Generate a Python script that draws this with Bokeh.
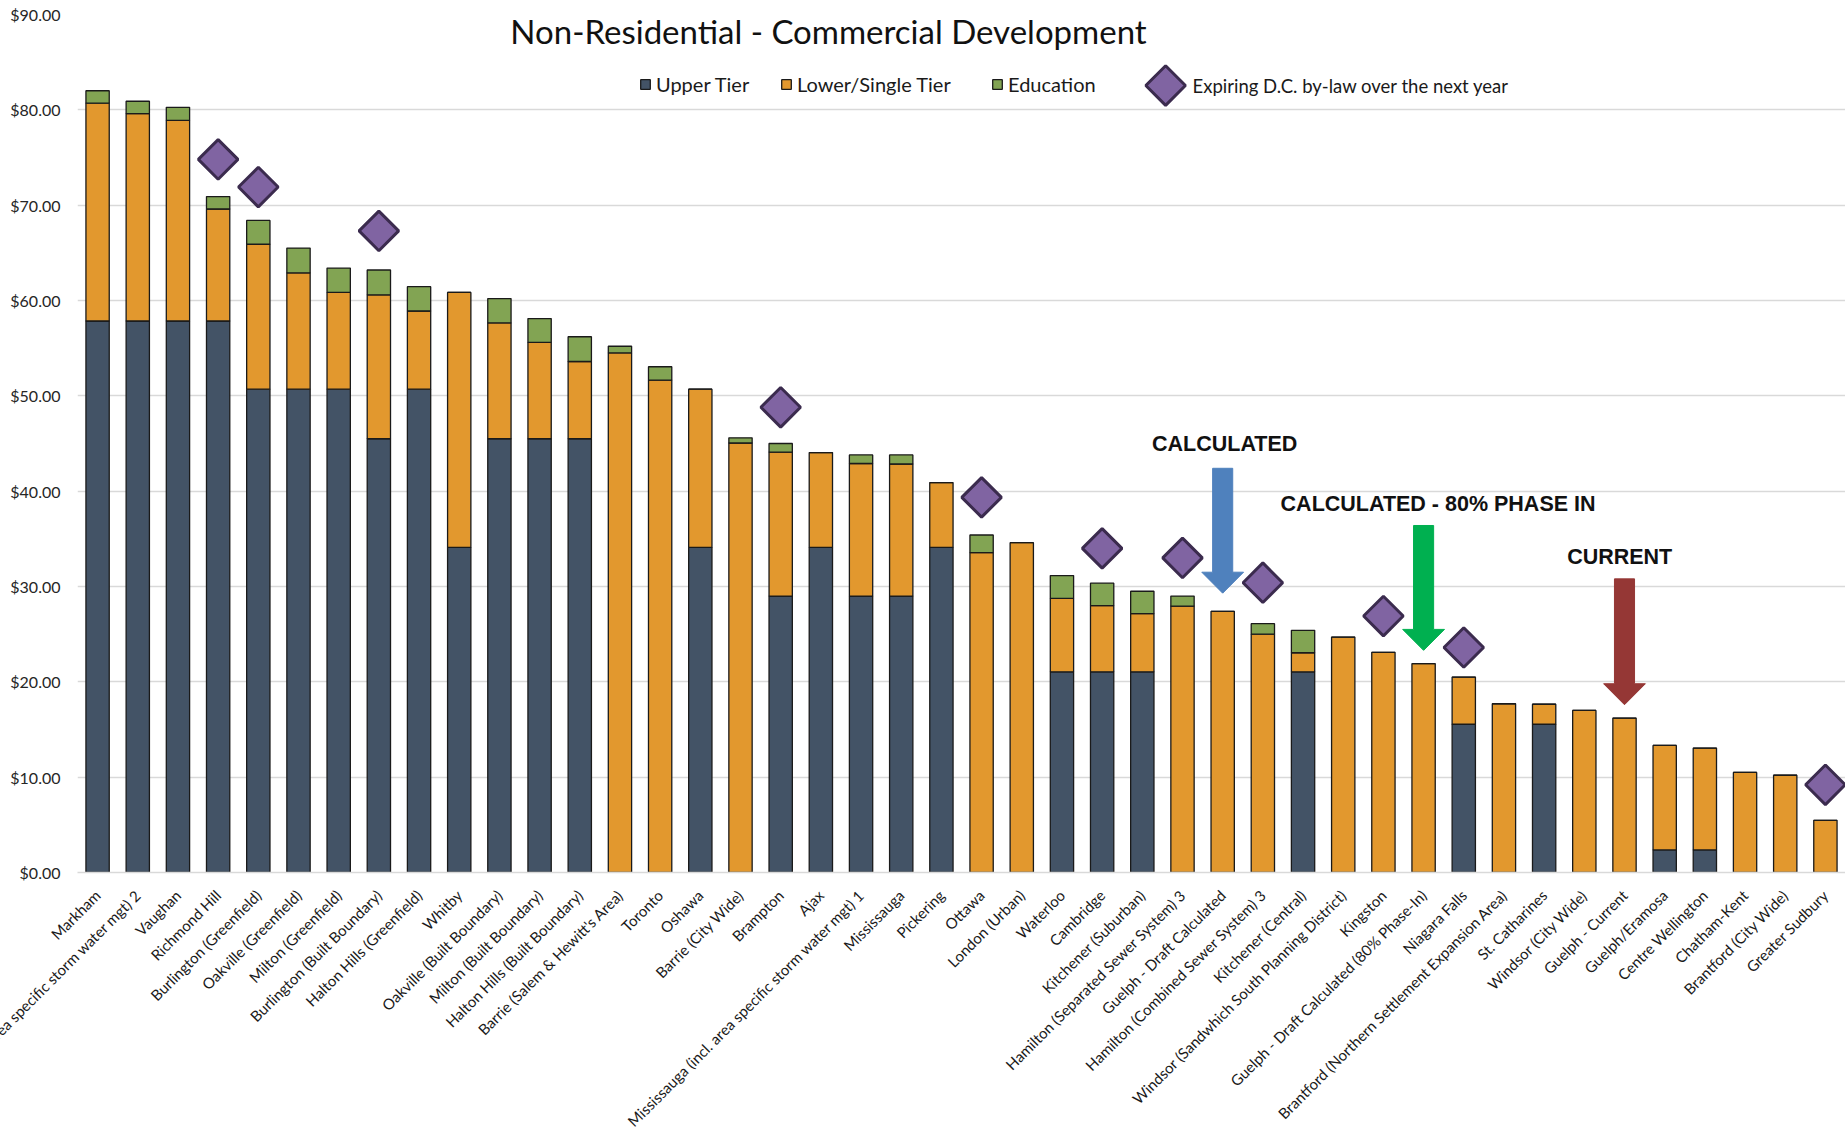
import math
from bokeh.plotting import figure
from bokeh.models import (ColumnDataSource, Legend, LegendItem, FixedTicker,
                          NumeralTickFormatter, CustomJSTickFormatter, Range1d)
from bokeh.core.properties import value
from bokeh.embed import file_html
from bokeh.resources import INLINE

# ---------------- data ----------------
categories = [
    "Markham",
    "Vaughan (incl. area specific storm water mgt) 2",
    "Vaughan",
    "Richmond Hill",
    "Burlington (Greenfield)",
    "Oakville (Greenfield)",
    "Milton (Greenfield)",
    "Burlington (Built Boundary)",
    "Halton Hills (Greenfield)",
    "Whitby",
    "Oakville (Built Boundary)",
    "Milton (Built Boundary)",
    "Halton Hills (Built Boundary)",
    "Barrie (Salem & Hewitt's Area)",
    "Toronto",
    "Oshawa",
    "Barrie (City Wide)",
    "Brampton",
    "Ajax",
    "Mississauga (incl. area specific storm water mgt) 1",
    "Mississauga",
    "Pickering",
    "Ottawa",
    "London (Urban)",
    "Waterloo",
    "Cambridge",
    "Kitchener (Suburban)",
    "Hamilton (Separated Sewer System) 3",
    "Guelph - Draft Calculated",
    "Hamilton (Combined Sewer System) 3",
    "Kitchener (Central)",
    "Windsor (Sandwhich South Planning District)",
    "Kingston",
    "Guelph - Draft Calculated (80% Phase-In)",
    "Niagara Falls",
    "Brantford (Northern Settlement Expansion Area)",
    "St. Catharines",
    "Windsor (City Wide)",
    "Guelph - Current",
    "Guelph/Eramosa",
    "Centre Wellington",
    "Chatham-Kent",
    "Brantford (City Wide)",
    "Greater Sudbury",
]

upper_tier = [57.85, 57.85, 57.85, 57.85, 50.70, 50.70, 50.70, 45.50, 50.70, 34.10,
              45.50, 45.50, 45.50, 0.00, 0.00, 34.10, 0.00, 29.00, 34.10, 29.00,
              29.00, 34.10, 0.00, 0.00, 21.05, 21.05, 21.05, 0.00, 0.00, 0.00,
              21.05, 0.00, 0.00, 0.00, 15.55, 0.00, 15.55, 0.00, 0.00, 2.37,
              2.37, 0.00, 0.00, 0.00]

lower_single_tier = [22.85, 21.75, 21.05, 11.75, 15.20, 12.20, 10.15, 15.10, 8.20, 26.75,
                     12.15, 10.10, 8.10, 54.50, 51.65, 16.60, 45.05, 15.10, 9.95, 13.90,
                     13.85, 6.80, 33.55, 34.60, 7.70, 6.95, 6.10, 27.95, 27.40, 25.00,
                     2.00, 24.70, 23.10, 21.90, 4.95, 17.70, 2.10, 17.00, 16.20, 10.96,
                     10.68, 10.50, 10.20, 5.47]

education = [1.30, 1.30, 1.36, 1.30, 2.50, 2.60, 2.55, 2.60, 2.55, 0.00,
             2.55, 2.50, 2.60, 0.70, 1.40, 0.00, 0.55, 0.90, 0.00, 0.90,
             0.95, 0.00, 1.85, 0.00, 2.40, 2.35, 2.35, 1.05, 0.00, 1.10,
             2.35, 0.00, 0.00, 0.00, 0.00, 0.00, 0.00, 0.00, 0.00, 0.00,
             0.00, 0.00, 0.00, 0.00]

series_names = ["Upper Tier", "Lower/Single Tier", "Education"]

# municipalities flagged "Expiring D.C. by-law over the next year" and marker height
expiring_names = ["Richmond Hill", "Burlington (Greenfield)", "Burlington (Built Boundary)",
                  "Brampton", "Ottawa", "Cambridge", "Hamilton (Separated Sewer System) 3",
                  "Hamilton (Combined Sewer System) 3", "Kingston", "Niagara Falls",
                  "Greater Sudbury"]
expiring_marker_y = [74.8, 71.9, 67.3, 48.8, 39.35, 34.0, 33.0, 30.4, 26.9, 23.6, 9.2]
expiring_label = "Expiring D.C. by-law over the  next year"

# call-out arrows
arrow_targets = ["Guelph - Draft Calculated", "Guelph - Draft Calculated (80% Phase-In)",
                 "Guelph - Current"]
arrow_labels = ["CALCULATED", "CALCULATED - 80% PHASE IN", "CURRENT"]
arrow_top = [42.4, 36.4, 30.8]
arrow_tip = [29.3, 23.3, 17.6]
arrow_label_y = [45.0, 38.7, 33.05]

y_ticks = [0, 10, 20, 30, 40, 50, 60, 70, 80, 90]

title_text = "Non-Residential - Commercial Development"

# ---------------- styles ----------------
C_UPPER = "#435366"
C_LOWER = "#E2982E"
C_EDU = "#82A453"
C_DIAMOND = "#8064A2"
C_DIAMOND_LINE = "#3B2B4E"
arrow_colors = ["#4F81BD", "#00B050", "#953735"]
arrow_label_dx = [0.05, 0.36, -0.12]
SHAFT_HW = 0.25
HEAD_HW = 0.52
HEAD_LEN = 2.2
FONT = "Lato"

n = len(categories)
xs = list(range(n))

p = figure(width=1845, height=1139, output_backend="svg", toolbar_location=None,
           x_range=Range1d(-0.5, n - 0.5), y_range=Range1d(0, 90),
           min_border_left=77, min_border_right=0, min_border_top=14,
           min_border_bottom=266)
p.outline_line_color = None
p.background_fill_color = "white"
p.border_fill_color = "white"

source = ColumnDataSource(dict(x=xs, upper=upper_tier, lower=lower_single_tier,
                               education=education))
renderers = p.vbar_stack(["upper", "lower", "education"], x="x", width=0.58,
                         source=source, fill_color=[C_UPPER, C_LOWER, C_EDU],
                         line_color="#1a1a1a", line_width=1.3)

# expiring markers
ex_x = [categories.index(nm) for nm in expiring_names]
p.scatter(x=ex_x, y=expiring_marker_y, marker="square", angle=math.pi / 4, size=28,
          fill_color=C_DIAMOND, line_color=C_DIAMOND_LINE, line_width=3)

# arrows
for tgt, top, tip, col, lab, ly, dx in zip(arrow_targets, arrow_top, arrow_tip,
                                           arrow_colors, arrow_labels, arrow_label_y,
                                           arrow_label_dx):
    cx = categories.index(tgt)
    hb = tip + HEAD_LEN
    px = [cx - SHAFT_HW, cx + SHAFT_HW, cx + SHAFT_HW, cx + HEAD_HW, cx,
          cx - HEAD_HW, cx - SHAFT_HW]
    py = [top, top, hb, hb, tip, hb, hb]
    p.patch(px, py, fill_color=col, line_color=col, line_width=1)
    p.text(x=[cx + dx], y=[ly], text=[lab], text_align="center",
           text_baseline="alphabetic", text_font=value("Liberation Sans"),
           text_font_style="bold", text_font_size="21.5px", text_color="#111111")

# title (inside the plot area, as in the original)
p.text(x=[18.19], y=[88.27], text=[title_text], text_align="center",
       text_baseline="alphabetic", text_font=value(FONT), text_font_size="33px",
       text_color="#111111")

# legend for the bar series
legend_x = [562, 703, 914]
for r, lab, lx in zip(renderers, series_names, legend_x):
    lg = Legend(items=[LegendItem(label=lab, renderers=[r])], location=(lx, 776),
                orientation="horizontal", glyph_width=12, glyph_height=12,
                label_standoff=5, padding=0, margin=0, border_line_color=None,
                background_fill_alpha=0, label_text_font=FONT,
                label_text_font_size="20px", label_text_color="#1a1a1a")
    p.add_layout(lg)

# legend entry for the expiring marker
p.scatter(x=[26.58], y=[82.55], marker="square", angle=math.pi / 4, size=28,
          fill_color=C_DIAMOND, line_color=C_DIAMOND_LINE, line_width=3)
p.text(x=[27.25], y=[82.45], text=[expiring_label], text_align="left",
       text_baseline="alphabetic", text_font=value(FONT), text_font_size="18.5px",
       text_color="#1a1a1a")

# axes
p.yaxis.ticker = FixedTicker(ticks=y_ticks)
p.yaxis.formatter = NumeralTickFormatter(format="$0.00")
p.yaxis.axis_line_color = None
p.yaxis.major_tick_line_color = None
p.yaxis.minor_tick_line_color = None
p.yaxis.major_label_standoff = 11
p.yaxis.major_label_text_font = FONT
p.yaxis.major_label_text_font_size = "16px"
p.yaxis.major_label_text_color = "#262626"

p.xaxis.ticker = FixedTicker(ticks=xs)
p.xaxis.formatter = CustomJSTickFormatter(args=dict(labels=categories),
                                          code="return labels[Math.round(tick)] || '';")
p.xaxis.major_label_orientation = math.pi / 4
p.xaxis.axis_line_color = "#D9D9D9"
p.xaxis.axis_line_width = 1.5
p.xaxis.major_tick_line_color = None
p.xaxis.minor_tick_line_color = None
p.xaxis.major_label_standoff = 14
p.xaxis.major_label_text_font = FONT
p.xaxis.major_label_text_font_size = "15px"
p.xaxis.major_label_text_color = "#1a1a1a"

p.xgrid.visible = False
p.ygrid.ticker = FixedTicker(ticks=y_ticks)
p.ygrid.grid_line_color = "#D9D9D9"
p.ygrid.grid_line_width = 1.3

open("out.html", "w").write(file_html(p, INLINE))
